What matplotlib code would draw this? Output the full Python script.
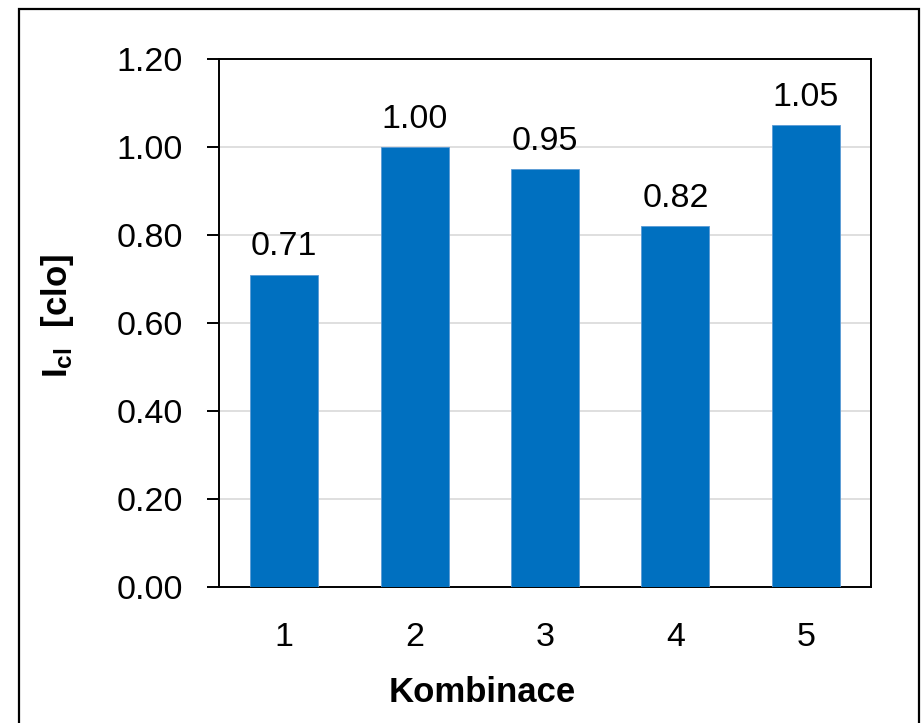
import matplotlib
matplotlib.use('Agg')
import matplotlib.pyplot as plt
from matplotlib.patches import Rectangle

# data
kombinace = ['1', '2', '3', '4', '5']
icl = [0.71, 1.00, 0.95, 0.82, 1.05]
yticks = [0.0, 0.2, 0.4, 0.6, 0.8, 1.0, 1.2]

fonty = ['Liberation Sans Narrow', 'Liberation Sans', 'DejaVu Sans']
plt.rcParams['font.family'] = fonty
plt.rcParams['mathtext.fontset'] = 'custom'
plt.rcParams['mathtext.rm'] = 'Liberation Sans'
plt.rcParams['mathtext.bf'] = 'Liberation Sans:bold'

fig = plt.figure(figsize=(9.21, 7.23), dpi=100)
ax = fig.add_axes([219/921, 1 - 587/723, 652/921, 528/723])

x = range(len(kombinace))
ax.bar(x, icl, width=0.52, color='#0070C0', edgecolor='#5B9BD5', linewidth=0.6, zorder=3)

for xi, v in zip(x, icl):
    ax.annotate(f'{v:.2f}', (xi, v), xytext=(0, 9), textcoords='offset points',
                ha='center', va='bottom', fontsize=24.5, color='black')

ax.set_xlim(-0.5, len(kombinace) - 0.5)
ax.set_ylim(0, 1.2)
ax.set_yticks(yticks)
ax.set_yticklabels([f'{t:.2f}' for t in yticks])
ax.set_xticks(list(x))
ax.set_xticklabels(kombinace)
ax.tick_params(axis='y', length=9, width=1.4, pad=17, labelsize=24.5, labelcolor='black')
ax.tick_params(axis='x', length=0, pad=25, labelsize=24.5, labelcolor='black')
ax.grid(axis='y', color='#D9D9D9', linewidth=1.2, zorder=0)
for s in ax.spines.values():
    s.set_linewidth(1.4)
    s.set_color('black')

fig.text(482/921, 1 - 692/723, 'Kombinace', ha='center', va='center',
         fontsize=25, fontweight='bold')
fig.text(57/921, 1 - 316/723, r'$\mathbf{I_{cl}}$  [clo]', ha='center', va='center',
         rotation=90, fontsize=25, fontweight='bold')

# ramecek kolem celeho grafu
fig.patches.append(Rectangle((19/921, -0.05), 900/921, 1 - 9/723 + 0.05,
                             transform=fig.transFigure, fill=False,
                             edgecolor='black', linewidth=1.6))

fig.savefig('out.png', dpi=100)
